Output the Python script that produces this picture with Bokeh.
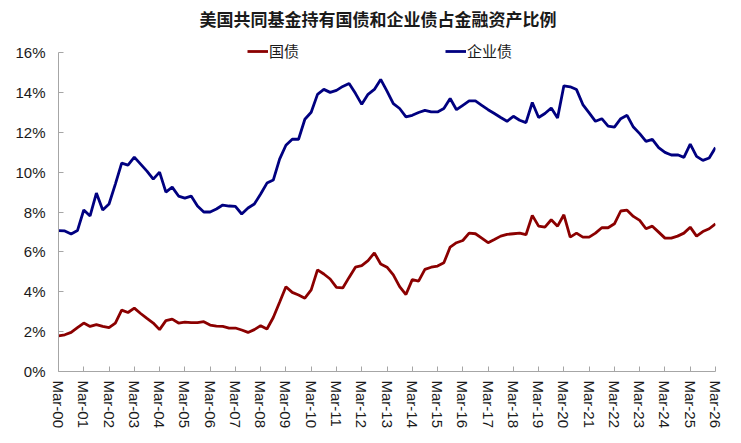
from bokeh.plotting import figure
from bokeh.models import (Range1d, FixedTicker, NumeralTickFormatter, Legend, LegendItem,
                          Label, ColumnDataSource)
from bokeh.embed import file_html
from bokeh.resources import INLINE

# Quarterly data, Mar-00 ... Mar-26 (share of financial assets, %)
treasury = [1.79, 1.84, 1.96, 2.2, 2.43, 2.26, 2.35, 2.26, 2.2, 2.43,
            3.08, 2.96, 3.18, 2.91, 2.66, 2.43, 2.1, 2.55, 2.63, 2.43,
            2.48, 2.45, 2.45, 2.5, 2.33, 2.28, 2.26, 2.18, 2.18, 2.08,
            1.96, 2.1, 2.3, 2.13, 2.71, 3.47, 4.25, 3.97, 3.84, 3.68,
            4.09, 5.1, 4.89, 4.64, 4.22, 4.19, 4.72, 5.23, 5.31, 5.56,
            5.95, 5.39, 5.23, 4.85, 4.26, 3.86, 4.61, 4.53, 5.12, 5.23,
            5.29, 5.45, 6.24, 6.46, 6.57, 6.94, 6.91, 6.69, 6.46, 6.62,
            6.79, 6.88, 6.91, 6.94, 6.86, 7.83, 7.29, 7.24, 7.61, 7.29,
            7.86, 6.74, 6.94, 6.74, 6.74, 6.94, 7.21, 7.21, 7.41, 8.05,
            8.09, 7.78, 7.58, 7.16, 7.29, 6.99, 6.69, 6.69, 6.79, 6.94,
            7.24, 6.79, 7.02, 7.16, 7.41]
corporate = [7.07, 7.05, 6.9, 7.07, 8.1, 7.8, 8.95, 8.1, 8.4, 9.4,
             10.45, 10.35, 10.75, 10.4, 10.05, 9.65, 10.0, 9.0, 9.25, 8.8,
             8.7, 8.8, 8.3, 8.0, 8.0, 8.15, 8.35, 8.3, 8.28, 7.9,
             8.2, 8.4, 8.9, 9.45, 9.6, 10.65, 11.35, 11.65, 11.65, 12.65,
             13.0, 13.9, 14.15, 14.0, 14.1, 14.3, 14.45, 13.95, 13.4, 13.9,
             14.15, 14.65, 14.06, 13.44, 13.19, 12.77, 12.85, 12.99, 13.1, 13.02,
             13.02, 13.19, 13.69, 13.13, 13.35, 13.57, 13.57, 13.35, 13.13, 12.94,
             12.74, 12.55, 12.8, 12.6, 12.48, 13.49, 12.74, 12.94, 13.22, 12.72,
             14.33, 14.28, 14.14, 13.39, 12.97, 12.55, 12.68, 12.31, 12.26, 12.68,
             12.85, 12.26, 11.93, 11.54, 11.64, 11.23, 10.99, 10.86, 10.87, 10.74,
             11.4, 10.79, 10.59, 10.71, 11.23]
tick_labels = ["Mar-%02d" % y for y in range(0, 27)]
series_names = ["国债", "企业债"]
title_text = "美国共同基金持有国债和企业债占金融资产比例"

quarter_idx = list(range(len(treasury)))
src = ColumnDataSource(dict(x=quarter_idx,
                            t=[v / 100 for v in treasury],
                            c=[v / 100 for v in corporate]))

W, H = 735, 437
L, R, T, B = 58, 20, 0, 66
frame_h = H - T - B           # 371
y16 = 52                      # pixel row of the 16% tick
ymax = 0.16 * frame_h / (frame_h - y16)

p = figure(width=W, height=H, output_backend="svg", toolbar_location=None,
           x_range=Range1d(0, 104), y_range=Range1d(0, ymax),
           min_border_left=L, min_border_right=R, min_border_top=T, min_border_bottom=B)
p.outline_line_color = None
p.grid.visible = False
p.background_fill_color = "white"
p.border_fill_color = "white"

RED = "#8B0000"
BLUE = "#000080"
r1 = p.line("x", "t", source=src, line_color=RED, line_width=2.8)
r2 = p.line("x", "c", source=src, line_color=BLUE, line_width=2.8)

axis_col = "#A6A6A6"
txt_col = "#1a1a1a"
font = "Liberation Sans"

xa = p.xaxis[0]
xa.ticker = FixedTicker(ticks=list(range(0, 105, 4)))
xa.major_label_overrides = {i * 4: lab for i, lab in enumerate(tick_labels)}
xa.major_label_orientation = "vertical"
xa.major_label_text_font = font
xa.major_label_text_font_size = "15px"
xa.major_label_text_color = txt_col
xa.major_label_standoff = 9
xa.axis_line_color = axis_col
xa.major_tick_line_color = axis_col
xa.major_tick_in = 5
xa.major_tick_out = 0
xa.minor_tick_line_color = None

ya = p.yaxis[0]
ya.ticker = FixedTicker(ticks=[i * 0.02 for i in range(9)])
ya.formatter = NumeralTickFormatter(format="0%")
ya.bounds = (0, 0.16)
ya.major_label_text_font = font
ya.major_label_text_font_size = "15px"
ya.major_label_text_color = txt_col
ya.major_label_standoff = 13
ya.axis_line_color = axis_col
ya.major_tick_line_color = axis_col
ya.major_tick_in = 5
ya.major_tick_out = 0
ya.minor_tick_line_color = None

cjk = "Noto Sans CJK SC"

for rend, name, vx in [(r1, series_names[0], 189), (r2, series_names[1], 387)]:
    lg = Legend(items=[LegendItem(label=name, renderers=[rend])],
                location=(vx, frame_h - 61), orientation="horizontal",
                padding=0, margin=0, border_line_color=None,
                background_fill_alpha=0, glyph_width=21, glyph_height=16,
                label_height=16, label_standoff=1,
                label_text_font=cjk, label_text_font_size="15px",
                label_text_color=txt_col)
    p.add_layout(lg, "center")

p.add_layout(Label(x=319.5, y=frame_h - 18, x_units="screen", y_units="screen",
                   text=title_text, text_align="center", text_baseline="middle",
                   text_font=cjk, text_font_size="17px", text_font_style="bold",
                   text_color=txt_col))

open("out.html", "w").write(file_html(p, INLINE))
